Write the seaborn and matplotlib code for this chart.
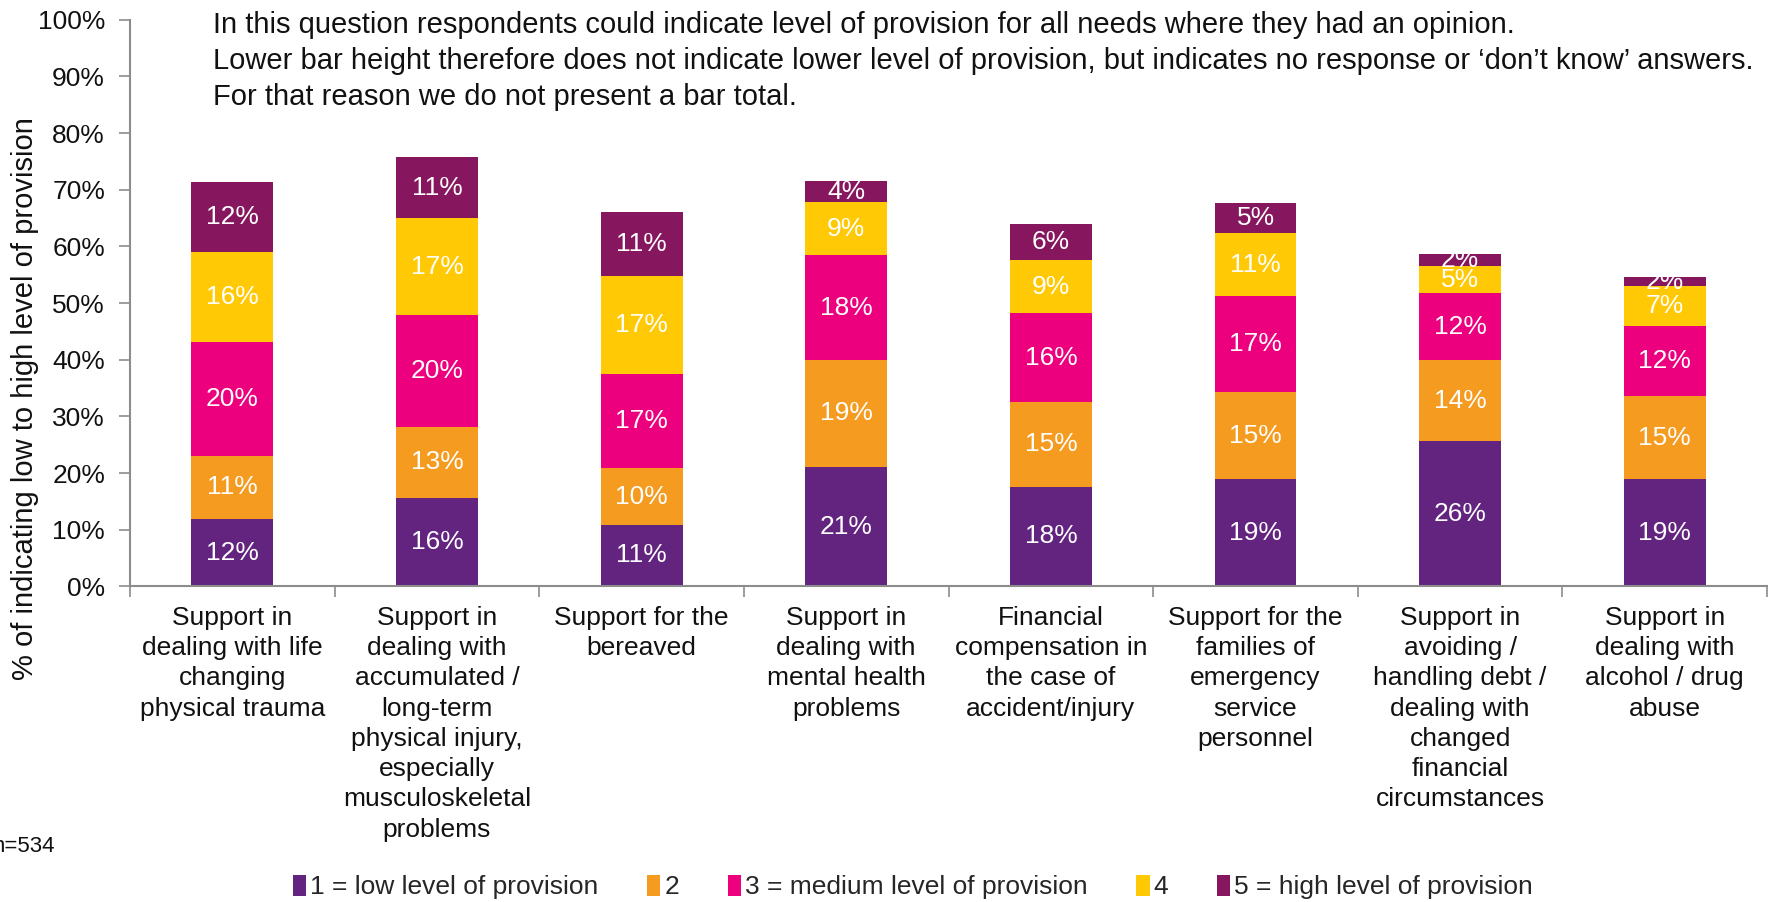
import numpy as np
import pandas as pd
import matplotlib
matplotlib.use("Agg")
import matplotlib.pyplot as plt
from matplotlib.patches import Patch
from matplotlib.ticker import FixedLocator, PercentFormatter
import seaborn as sns

# Categories (needs) and share of respondents per provision level (%)
categories = [
    "Support in\ndealing with life\nchanging\nphysical trauma",
    "Support in\ndealing with\naccumulated /\nlong-term\nphysical injury,\nespecially\nmusculoskeletal\nproblems",
    "Support for the\nbereaved",
    "Support in\ndealing with\nmental health\nproblems",
    "Financial\ncompensation in\nthe case of\naccident/injury",
    "Support for the\nfamilies of\nemergency\nservice\npersonnel",
    "Support in\navoiding /\nhandling debt /\ndealing with\nchanged\nfinancial\ncircumstances",
    "Support in\ndealing with\nalcohol / drug\nabuse",
]
level_1 = [11.9, 15.6, 10.9, 21.1, 17.6, 18.9, 25.6, 18.9]
level_2 = [11.1, 12.6, 9.9, 18.9, 14.9, 15.4, 14.3, 14.7]
level_3 = [20.1, 19.7, 16.6, 18.4, 15.7, 16.9, 11.9, 12.4]
level_4 = [16.0, 17.1, 17.4, 9.4, 9.4, 11.1, 4.7, 7.0]
level_5 = [12.3, 10.8, 11.3, 3.7, 6.4, 5.3, 2.1, 1.6]

level_names = [
    "1 = low level of provision",
    "2",
    "3 = medium level of provision",
    "4",
    "5 = high level of provision",
]
level_colors = ["#62247F", "#F59B20", "#EC007E", "#FFC905", "#86175E"]

note_lines = [
    "In this question respondents could indicate level of provision for all needs where they had an opinion.",
    "Lower bar height therefore does not indicate lower level of provision, but indicates no response or \u2018don\u2019t know\u2019 answers.",
    "For that reason we do not present a bar total.",
]

sns.set_theme(style="white")
plt.rcParams["font.family"] = ["Liberation Sans", "DejaVu Sans"]

FS = 19
levels = [level_1, level_2, level_3, level_4, level_5]
df = pd.DataFrame({name: vals for name, vals in zip(level_names, levels)})
df["need"] = categories
cum = df[level_names].cumsum(axis=1)
cum["need"] = categories

fig = plt.figure(figsize=(17.76, 9.02), dpi=100)
ax = fig.add_axes([0.0732, 0.350, 0.9218, 0.628])

# Stack by overdrawing cumulative totals, tallest first
for name, color in reversed(list(zip(level_names, level_colors))):
    sns.barplot(data=cum, x="need", y=name, color=color, width=0.4,
                saturation=1, ax=ax, linewidth=0, order=categories)

# Segment value labels centred in each segment
for i in range(len(categories)):
    base = 0.0
    for vals in levels:
        v = vals[i]
        ax.text(i, base + v / 2, f"{round(v):d}%", ha="center", va="center",
                color="white", fontsize=FS)
        base += v

ax.set_xlim(-0.5, len(categories) - 0.5)
ax.set_ylim(0, 100)
ax.yaxis.set_major_locator(FixedLocator(np.arange(0, 101, 10)))
ax.yaxis.set_major_formatter(PercentFormatter(decimals=0))
ax.set_xlabel("")
ax.set_ylabel("")
ax.set_xticks(range(len(categories)))
ax.set_xticklabels(categories, fontsize=FS, linespacing=1.33, color="#111111")
ax.xaxis.set_minor_locator(FixedLocator(np.arange(-0.5, len(categories), 1.0)))
ax.tick_params(axis="x", which="major", length=0, pad=14)
ax.tick_params(axis="x", which="minor", length=8, width=1.2, color="#8c8c8c",
               direction="out", bottom=True)
ax.tick_params(axis="y", which="major", length=8, width=1.2, color="#8c8c8c",
               direction="out", left=True, labelsize=FS, labelcolor="#111111", pad=10)
for side in ["top", "right"]:
    ax.spines[side].set_visible(False)
for side in ["left", "bottom"]:
    ax.spines[side].set_color("#8c8c8c")
    ax.spines[side].set_linewidth(1.5)

fig.text(0.014, 0.558, "% of indicating low to high level of provision",
         rotation=90, ha="center", va="center", fontsize=21, color="#111111")

for k, line in enumerate(note_lines):
    fig.text(213 / 1776, 1 - (25 + 36 * k) / 902, line, ha="left", va="center",
             fontsize=21, color="#111111")

fig.text(55 / 1776, 1 - 847 / 902, "n=534", ha="right", va="center",
         fontsize=16, color="#111111")

handles = [Patch(facecolor=c, edgecolor="none") for c in level_colors]
fig.legend(handles, level_names, loc="center", bbox_to_anchor=(0.514, 1 - 887 / 902),
           ncol=5, frameon=False, fontsize=FS, handlelength=0.5, handleheight=0.85,
           handletextpad=0.15, columnspacing=1.85)

fig.savefig("out.png", dpi=100)
